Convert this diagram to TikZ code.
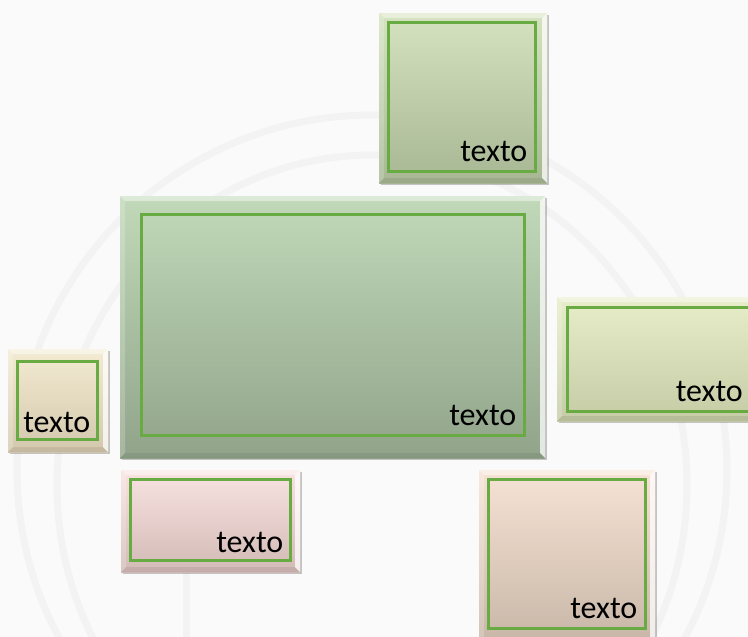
\documentclass[tikz,border=0pt]{standalone}
\usepackage{fontspec}
\setmainfont{Carlito}
\usetikzlibrary{shadows}
\definecolor{grn}{HTML}{68AB43}
\definecolor{bgc}{HTML}{FAFAFA}
\definecolor{globec}{HTML}{F3F3F3}
\definecolor{topT}{HTML}{D5E3C0}\definecolor{topB}{HTML}{A7B693}
\definecolor{mainT}{HTML}{C1D9B9}\definecolor{mainB}{HTML}{91A48A}
\definecolor{rightT}{HTML}{E8EEC9}\definecolor{rightB}{HTML}{C4CBA5}
\definecolor{leftT}{HTML}{F3EBD2}\definecolor{leftB}{HTML}{D3C8AD}
\definecolor{pinkT}{HTML}{F9E3E1}\definecolor{pinkB}{HTML}{D2BAB6}
\definecolor{peachT}{HTML}{F7E3D5}\definecolor{peachB}{HTML}{C6B5A6}
\begin{document}
\begin{tikzpicture}[x=1pt,y=-1pt,
  outerbox/.style={rectangle, inner sep=0pt, outer sep=0pt, draw=none,
    drop shadow={shadow xshift=1.5pt, shadow yshift=-1.5pt, opacity=0.22, fill=black}},
  innerbox/.style={rectangle, inner sep=0pt, outer sep=0pt, draw=grn, line width=3.5pt},
  lbl/.style={font=\fontsize{32}{38}\selectfont, text=black, inner sep=0pt, anchor=base east},
  globe/.style={draw=globec, line width=7pt}]
\useasboundingbox[fill=bgc] (0,0) rectangle (748,637);
% faint globe in the background
\draw[globe] (372,470) circle[radius=355];
\draw[globe] (372,485) ellipse[x radius=315, y radius=330];
\draw[globe] (186,520) -- (186,637);
\draw[globe] (580,520) -- (580,637);
% outer boxes
\node[outerbox, minimum width=168, minimum height=170, top color=topT, bottom color=topB] (top) at (463,98) {};
\node[outerbox, minimum width=425, minimum height=262, top color=mainT, bottom color=mainB] (main) at (332.5,327) {};
\node[outerbox, minimum width=213, minimum height=124, top color=rightT, bottom color=rightB] (right) at (663.5,359) {};
\node[outerbox, minimum width=100, minimum height=103, top color=leftT, bottom color=leftB] (left) at (58,400.5) {};
\node[outerbox, minimum width=179, minimum height=102, top color=pinkT, bottom color=pinkB] (pink) at (210.5,521) {};
\node[outerbox, minimum width=176, minimum height=178, top color=peachT, bottom color=peachB] (peach) at (567,559) {};
% bevels
\foreach \n in {top,main,right,left,pink,peach}{
  \fill[white, fill opacity=0.45] (\n.north west) -- (\n.north east) -- ([shift={(-5,5)}]\n.north east) -- ([shift={(5,5)}]\n.north west) -- cycle;
  \fill[white, fill opacity=0.75] (\n.north east) -- (\n.south east) -- ([shift={(-5,-5)}]\n.south east) -- ([shift={(-5,5)}]\n.north east) -- cycle;
  \fill[black, fill opacity=0.07] (\n.south west) -- (\n.south east) -- ([shift={(-5,-5)}]\n.south east) -- ([shift={(5,-5)}]\n.south west) -- cycle;
  \fill[white, fill opacity=0.2] (\n.north west) -- (\n.south west) -- ([shift={(5,-5)}]\n.south west) -- ([shift={(5,5)}]\n.north west) -- cycle;
}
% inner frames
\node[innerbox, minimum width=147, minimum height=149] (topi) at (462,97) {};
\node[innerbox, minimum width=383, minimum height=221] (maini) at (333,325) {};
\node[innerbox, minimum width=192.5, minimum height=104] (righti) at (663.75,359.5) {};
\node[innerbox, minimum width=80, minimum height=78] (lefti) at (57.5,400.5) {};
\node[innerbox, minimum width=160, minimum height=81] (pinki) at (210.5,520) {};
\node[innerbox, minimum width=157, minimum height=149] (peachi) at (567,554) {};
% labels
\node[lbl] (topt) at ([shift={(-8,-10)}]topi.south east) {texto};
\node[lbl] (maint) at ([shift={(-8,-10)}]maini.south east) {texto};
\node[lbl] (rightt) at (743,401) {texto};
\node[lbl] (leftt) at ([shift={(-7,-7)}]lefti.south east) {texto};
\node[lbl] (pinkt) at ([shift={(-7,-8)}]pinki.south east) {texto};
\node[lbl] (peacht) at ([shift={(-8,-10)}]peachi.south east) {texto};
\end{tikzpicture}
\end{document}
